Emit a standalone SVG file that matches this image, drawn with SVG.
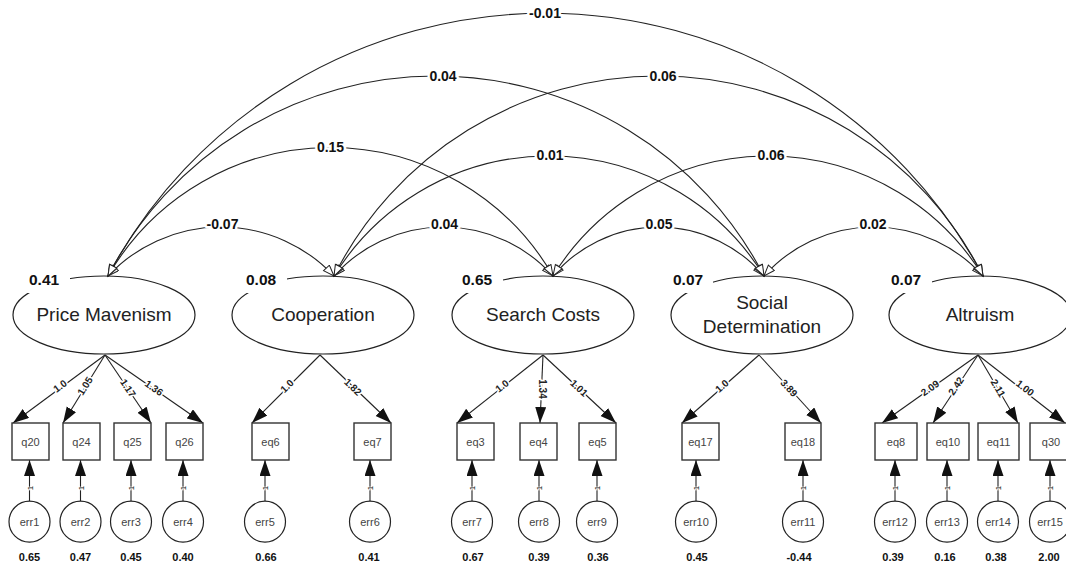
<svg xmlns="http://www.w3.org/2000/svg" width="1066" height="564" viewBox="0 0 1066 564">
<style>
  .arc{fill:none;stroke:#222;stroke-width:1.1;marker-start:url(#open);marker-end:url(#open)}
  .ld{fill:none;stroke:#222;stroke-width:1.1;marker-end:url(#solid)}
  .alab{font-family:"Liberation Sans",Arial,sans-serif;font-size:14px;font-weight:bold;fill:#111;text-anchor:middle;stroke:#fff;stroke-width:5;paint-order:stroke;stroke-linejoin:round}
  .llab{font-family:"Liberation Sans",Arial,sans-serif;font-size:10px;font-weight:bold;fill:#222;text-anchor:middle;stroke:#fff;stroke-width:3;paint-order:stroke;stroke-linejoin:round}
  .one{font-family:"Liberation Sans",Arial,sans-serif;font-size:8px;fill:#111;text-anchor:middle;stroke:#fff;stroke-width:1.5;paint-order:stroke}
  .ell{fill:none;stroke:#222;stroke-width:1.2}
  .fname{font-family:"Liberation Sans",Arial,sans-serif;font-size:19px;fill:#222;text-anchor:middle}
  .var{font-family:"Liberation Sans",Arial,sans-serif;font-size:15.5px;font-weight:bold;fill:#111}
  .hole{fill:#fff;stroke:none}
  .box{fill:#fff;stroke:#333;stroke-width:1.4}
  .bname{font-family:"Liberation Sans",Arial,sans-serif;font-size:11px;fill:#444;text-anchor:middle}
  .err{fill:#fff;stroke:#222;stroke-width:1.2}
  .ename{font-family:"Liberation Sans",Arial,sans-serif;font-size:11px;fill:#444;text-anchor:middle}
  .evar{font-family:"Liberation Sans",Arial,sans-serif;font-size:11px;font-weight:bold;fill:#111;text-anchor:middle}
</style>
<defs>
  <marker id="open" markerUnits="userSpaceOnUse" viewBox="0 0 14 10" markerWidth="14" markerHeight="10" refX="12" refY="4.5" orient="auto-start-reverse">
    <path d="M1,0.5 L12,4.5 L1,8.5 Z" fill="#fff" stroke="#222" stroke-width="1"/>
  </marker>
  <marker id="solid" markerUnits="userSpaceOnUse" viewBox="0 0 18 12" markerWidth="18" markerHeight="12" refX="16" refY="5.5" orient="auto">
    <path d="M0,0 L16,5.5 L0,11 Z" fill="#111"/>
  </marker>
</defs>
<rect width="1066" height="564" fill="#fff"/>

<g id="connectors">
  <path class="arc" d="M108,276 A154.8,154.8 0 0 1 334,276"/>
  <path class="arc" d="M334,276 A146.9,146.9 0 0 1 553,276"/>
  <path class="arc" d="M553,276 A138.1,138.1 0 0 1 764,276"/>
  <path class="arc" d="M764,276 A146.9,146.9 0 0 1 983,276"/>
  <path class="arc" d="M108,276 A256.9,256.9 0 0 1 553,276"/>
  <path class="arc" d="M334,276 A252.6,252.6 0 0 1 764,276"/>
  <path class="arc" d="M553,276 A252.6,252.6 0 0 1 983,276"/>
  <path class="arc" d="M108,276 A369,369 0 0 1 764,276"/>
  <path class="arc" d="M334,276 A363.3,363.3 0 0 1 983,276"/>
  <path class="arc" d="M108,276 A495.6,495.6 0 0 1 983,276"/>
  <text class="alab" x="222.5" y="229">-0.07</text>
  <text class="alab" x="444.5" y="229">0.04</text>
  <text class="alab" x="659" y="229">0.05</text>
  <text class="alab" x="873" y="229">0.02</text>
  <text class="alab" x="330.5" y="152">0.15</text>
  <text class="alab" x="550" y="160">0.01</text>
  <text class="alab" x="771" y="160">0.06</text>
  <text class="alab" x="443" y="81">0.04</text>
  <text class="alab" x="663" y="81">0.06</text>
  <text class="alab" x="545" y="18">-0.01</text>

  <line class="ld" x1="105" y1="355" x2="13" y2="423"/>
  <line class="ld" x1="105" y1="355" x2="63" y2="423"/>
  <line class="ld" x1="105" y1="355" x2="151" y2="423"/>
  <line class="ld" x1="105" y1="355" x2="203" y2="423"/>
  <line class="ld" x1="320" y1="355" x2="252" y2="423"/>
  <line class="ld" x1="320" y1="355" x2="391" y2="423"/>
  <line class="ld" x1="543" y1="355" x2="457" y2="423"/>
  <line class="ld" x1="543" y1="355" x2="540" y2="423"/>
  <line class="ld" x1="543" y1="355" x2="616" y2="423"/>
  <line class="ld" x1="759" y1="355" x2="682" y2="423"/>
  <line class="ld" x1="759" y1="355" x2="821" y2="423"/>
  <line class="ld" x1="978" y1="355" x2="882" y2="423"/>
  <line class="ld" x1="978" y1="355" x2="933" y2="423"/>
  <line class="ld" x1="978" y1="355" x2="1018" y2="423"/>
  <line class="ld" x1="978" y1="355" x2="1065" y2="423"/>
  <text class="llab" transform="translate(60,386) rotate(-36.5)" y="3.5">1.0</text>
  <text class="llab" transform="translate(85,386) rotate(-58.3)" y="3.5">1.05</text>
  <text class="llab" transform="translate(128,388) rotate(55.9)" y="3.5">1.17</text>
  <text class="llab" transform="translate(154,388) rotate(34.8)" y="3.5">1.36</text>
  <text class="llab" transform="translate(287,386) rotate(-45)" y="3.5">1.0</text>
  <text class="llab" transform="translate(353,387) rotate(43.8)" y="3.5">1.82</text>
  <text class="llab" transform="translate(502,386) rotate(-38.3)" y="3.5">1.0</text>
  <text class="llab" transform="translate(542,389) rotate(90)" y="3.5">1.34</text>
  <text class="llab" transform="translate(579,388) rotate(43)" y="3.5">1.01</text>
  <text class="llab" transform="translate(722,386) rotate(-41.4)" y="3.5">1.0</text>
  <text class="llab" transform="translate(789,388) rotate(47.6)" y="3.5">3.89</text>
  <text class="llab" transform="translate(930,388) rotate(-35.3)" y="3.5">2.09</text>
  <text class="llab" transform="translate(956,386) rotate(-56.5)" y="3.5">2.42</text>
  <text class="llab" transform="translate(998,388) rotate(59.5)" y="3.5">2.11</text>
  <text class="llab" transform="translate(1025,388) rotate(38)" y="3.5">1.00</text>

  <line class="ld" x1="29.5" y1="501" x2="29.5" y2="460"/>
  <line class="ld" x1="80.5" y1="501" x2="80.5" y2="460"/>
  <line class="ld" x1="131" y1="501" x2="131" y2="460"/>
  <line class="ld" x1="183" y1="501" x2="183" y2="460"/>
  <line class="ld" x1="265" y1="501" x2="265" y2="460"/>
  <line class="ld" x1="370" y1="501" x2="370" y2="460"/>
  <line class="ld" x1="472" y1="501" x2="472" y2="460"/>
  <line class="ld" x1="539" y1="501" x2="539" y2="460"/>
  <line class="ld" x1="597" y1="501" x2="597" y2="460"/>
  <line class="ld" x1="696" y1="501" x2="696" y2="460"/>
  <line class="ld" x1="803" y1="501" x2="803" y2="460"/>
  <line class="ld" x1="895" y1="501" x2="895" y2="460"/>
  <line class="ld" x1="947" y1="501" x2="947" y2="460"/>
  <line class="ld" x1="998" y1="501" x2="998" y2="460"/>
  <line class="ld" x1="1050" y1="501" x2="1050" y2="460"/>
  <text class="one" transform="translate(29.5,488) rotate(-90)" y="3">1</text>
  <text class="one" transform="translate(80.5,488) rotate(-90)" y="3">1</text>
  <text class="one" transform="translate(131,488) rotate(-90)" y="3">1</text>
  <text class="one" transform="translate(183,488) rotate(-90)" y="3">1</text>
  <text class="one" transform="translate(265,488) rotate(-90)" y="3">1</text>
  <text class="one" transform="translate(370,488) rotate(-90)" y="3">1</text>
  <text class="one" transform="translate(472,488) rotate(-90)" y="3">1</text>
  <text class="one" transform="translate(539,488) rotate(-90)" y="3">1</text>
  <text class="one" transform="translate(597,488) rotate(-90)" y="3">1</text>
  <text class="one" transform="translate(696,488) rotate(-90)" y="3">1</text>
  <text class="one" transform="translate(803,488) rotate(-90)" y="3">1</text>
  <text class="one" transform="translate(895,488) rotate(-90)" y="3">1</text>
  <text class="one" transform="translate(947,488) rotate(-90)" y="3">1</text>
  <text class="one" transform="translate(998,488) rotate(-90)" y="3">1</text>
  <text class="one" transform="translate(1050,488) rotate(-90)" y="3">1</text>
</g>

<g id="price-mavenism">
  <ellipse class="ell" cx="104" cy="315" rx="91" ry="39"/>
  <rect class="hole" x="27" y="265" width="43" height="28"/>
  <text class="var" x="29" y="285">0.41</text>
  <text class="fname" x="104" y="321">Price Mavenism</text>
</g>
<g id="cooperation">
  <ellipse class="ell" cx="323" cy="315" rx="91" ry="39"/>
  <rect class="hole" x="244" y="265" width="43" height="28"/>
  <text class="var" x="246" y="285">0.08</text>
  <text class="fname" x="323" y="321">Cooperation</text>
</g>
<g id="search-costs">
  <ellipse class="ell" cx="543" cy="315" rx="91" ry="39"/>
  <rect class="hole" x="460" y="265" width="43" height="28"/>
  <text class="var" x="462" y="285">0.65</text>
  <text class="fname" x="543" y="321">Search Costs</text>
</g>
<g id="social-determination">
  <ellipse class="ell" cx="762" cy="315" rx="91" ry="39"/>
  <rect class="hole" x="671" y="265" width="42" height="28"/>
  <text class="var" x="673" y="285">0.07</text>
  <text class="fname" x="762" y="309">Social</text>
  <text class="fname" x="762" y="333">Determination</text>
</g>
<g id="altruism">
  <ellipse class="ell" cx="980" cy="315" rx="91" ry="39"/>
  <rect class="hole" x="889" y="265" width="43" height="28"/>
  <text class="var" x="891" y="285">0.07</text>
  <text class="fname" x="980" y="321">Altruism</text>
</g>

<g id="q20"><rect class="box" x="12" y="423" width="37" height="37"/><text class="bname" x="30.5" y="445.5">q20</text></g>
<g id="q24"><rect class="box" x="63" y="423" width="37" height="37"/><text class="bname" x="81.5" y="445.5">q24</text></g>
<g id="q25"><rect class="box" x="114" y="423" width="37" height="37"/><text class="bname" x="132.5" y="445.5">q25</text></g>
<g id="q26"><rect class="box" x="166" y="423" width="37" height="37"/><text class="bname" x="184.5" y="445.5">q26</text></g>
<g id="eq6"><rect class="box" x="252" y="423" width="37" height="37"/><text class="bname" x="270.5" y="445.5">eq6</text></g>
<g id="eq7"><rect class="box" x="354" y="423" width="37" height="37"/><text class="bname" x="372.5" y="445.5">eq7</text></g>
<g id="eq3"><rect class="box" x="457" y="423" width="37" height="37"/><text class="bname" x="475.5" y="445.5">eq3</text></g>
<g id="eq4"><rect class="box" x="520" y="423" width="37" height="37"/><text class="bname" x="538.5" y="445.5">eq4</text></g>
<g id="eq5"><rect class="box" x="579" y="423" width="37" height="37"/><text class="bname" x="597.5" y="445.5">eq5</text></g>
<g id="eq17"><rect class="box" x="682" y="423" width="37" height="37"/><text class="bname" x="700.5" y="445.5">eq17</text></g>
<g id="eq18"><rect class="box" x="785" y="423" width="36" height="37"/><text class="bname" x="803" y="445.5">eq18</text></g>
<g id="eq8"><rect class="box" x="875" y="423" width="42" height="37"/><text class="bname" x="896" y="445.5">eq8</text></g>
<g id="eq10"><rect class="box" x="927" y="423" width="42" height="37"/><text class="bname" x="948" y="445.5">eq10</text></g>
<g id="eq11"><rect class="box" x="978" y="423" width="41" height="37"/><text class="bname" x="998.5" y="445.5">eq11</text></g>
<g id="q30"><rect class="box" x="1030" y="423" width="42" height="37"/><text class="bname" x="1051" y="445.5">q30</text></g>

<g id="err1"><circle class="err" cx="29.5" cy="521.7" r="20.5"/><text class="ename" x="29.5" y="526">err1</text><text class="evar" x="29.5" y="561">0.65</text></g>
<g id="err2"><circle class="err" cx="80.5" cy="521.7" r="20.5"/><text class="ename" x="80.5" y="526">err2</text><text class="evar" x="80.5" y="561">0.47</text></g>
<g id="err3"><circle class="err" cx="131" cy="521.7" r="20.5"/><text class="ename" x="131" y="526">err3</text><text class="evar" x="131" y="561">0.45</text></g>
<g id="err4"><circle class="err" cx="183" cy="521.7" r="20.5"/><text class="ename" x="183" y="526">err4</text><text class="evar" x="183" y="561">0.40</text></g>
<g id="err5"><circle class="err" cx="265" cy="521.7" r="20.5"/><text class="ename" x="265" y="526">err5</text><text class="evar" x="266" y="561">0.66</text></g>
<g id="err6"><circle class="err" cx="370" cy="521.7" r="20.5"/><text class="ename" x="370" y="526">err6</text><text class="evar" x="369" y="561">0.41</text></g>
<g id="err7"><circle class="err" cx="472" cy="521.7" r="20.5"/><text class="ename" x="472" y="526">err7</text><text class="evar" x="473" y="561">0.67</text></g>
<g id="err8"><circle class="err" cx="539" cy="521.7" r="20.5"/><text class="ename" x="539" y="526">err8</text><text class="evar" x="539" y="561">0.39</text></g>
<g id="err9"><circle class="err" cx="597" cy="521.7" r="20.5"/><text class="ename" x="597" y="526">err9</text><text class="evar" x="598" y="561">0.36</text></g>
<g id="err10"><circle class="err" cx="696" cy="521.7" r="20.5"/><text class="ename" x="696" y="526">err10</text><text class="evar" x="697" y="561">0.45</text></g>
<g id="err11"><circle class="err" cx="803" cy="521.7" r="20.5"/><text class="ename" x="803" y="526">err11</text><text class="evar" x="799" y="561">-0.44</text></g>
<g id="err12"><circle class="err" cx="895" cy="521.7" r="20.5"/><text class="ename" x="895" y="526">err12</text><text class="evar" x="893" y="561">0.39</text></g>
<g id="err13"><circle class="err" cx="947" cy="521.7" r="20.5"/><text class="ename" x="947" y="526">err13</text><text class="evar" x="945" y="561">0.16</text></g>
<g id="err14"><circle class="err" cx="998" cy="521.7" r="20.5"/><text class="ename" x="998" y="526">err14</text><text class="evar" x="996" y="561">0.38</text></g>
<g id="err15"><circle class="err" cx="1050" cy="521.7" r="20.5"/><text class="ename" x="1050" y="526">err15</text><text class="evar" x="1049" y="561">2.00</text></g>
</svg>
